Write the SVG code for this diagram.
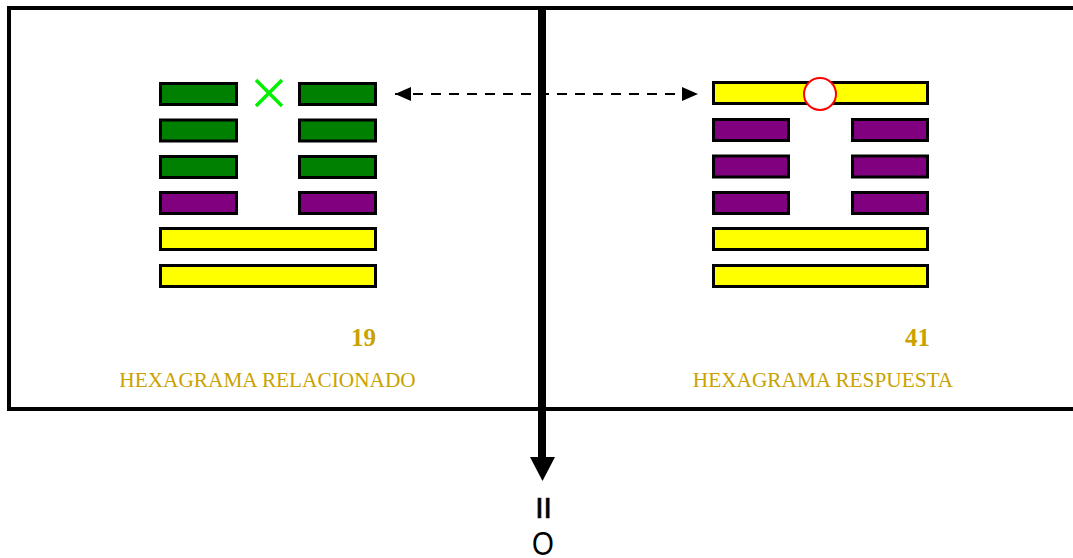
<svg xmlns="http://www.w3.org/2000/svg" width="1073" height="558" viewBox="0 0 1073 558">
<defs>
<style>
.bar{stroke:#000;stroke-width:3}
.g{fill:#008000}
.p{fill:#800080}
.y{fill:#ffff00}
.num{font-family:"Liberation Serif",serif;font-weight:bold;font-size:25px;fill:#c9a200;text-anchor:end}
.lbl{font-family:"Liberation Serif",serif;font-size:21.3px;fill:#c9a200;text-anchor:middle}
.sym{font-family:"Liberation Sans",sans-serif;fill:#000;text-anchor:middle}
</style>
<marker id="ah" viewBox="0 0 16 14" refX="16" refY="7" markerWidth="16" markerHeight="14" markerUnits="userSpaceOnUse" orient="auto-start-reverse">
<path d="M0,0 L16,7 L0,14 Z" fill="#000"/>
</marker>
</defs>
<rect width="1073" height="558" fill="#fff"/>
<path id="frame" d="M1076,8 H9 V409 H1076" fill="none" stroke="#000" stroke-width="4"/>
<g id="hex19">
<rect class="bar g" x="160.5" y="83.5" width="76" height="21"/>
<rect class="bar g" x="299.5" y="83.5" width="76" height="21"/>
<rect class="bar g" x="160.5" y="120" width="76" height="21"/>
<rect class="bar g" x="299.5" y="120" width="76" height="21"/>
<rect class="bar g" x="160.5" y="156.5" width="76" height="21"/>
<rect class="bar g" x="299.5" y="156.5" width="76" height="21"/>
<rect class="bar p" x="160.5" y="192.5" width="76" height="21"/>
<rect class="bar p" x="299.5" y="192.5" width="76" height="21"/>
<rect class="bar y" x="160.5" y="228.5" width="215" height="21"/>
<rect class="bar y" x="160.5" y="265.5" width="215" height="21"/>
<path d="M256,80 L282,106 M282,80 L256,106" stroke="#00ee00" stroke-width="3.5" fill="none"/>
<text class="num" x="376" y="346">19</text>
<text class="lbl" x="267.5" y="387">HEXAGRAMA RELACIONADO</text>
</g>
<g id="hex41">
<rect class="bar y" x="713.5" y="82.5" width="214" height="21"/>
<rect class="bar p" x="713.5" y="119.5" width="75" height="21"/>
<rect class="bar p" x="852.5" y="119.5" width="75" height="21"/>
<rect class="bar p" x="713.5" y="156" width="75" height="21"/>
<rect class="bar p" x="852.5" y="156" width="75" height="21"/>
<rect class="bar p" x="713.5" y="192.5" width="75" height="21"/>
<rect class="bar p" x="852.5" y="192.5" width="75" height="21"/>
<rect class="bar y" x="713.5" y="228.5" width="214" height="21"/>
<rect class="bar y" x="713.5" y="265.5" width="214" height="21"/>
<circle cx="820" cy="94" r="16" fill="#fff" stroke="#ff0000" stroke-width="2"/>
<text class="num" x="930" y="346">41</text>
<text class="lbl" x="823" y="387">HEXAGRAMA RESPUESTA</text>
</g>
<g id="connectors">
<line x1="395" y1="94" x2="698" y2="94" stroke="#000" stroke-width="2" stroke-dasharray="10 8" marker-start="url(#ah)" marker-end="url(#ah)"/>
<line x1="542" y1="8" x2="542" y2="459" stroke="#000" stroke-width="8"/>
<path d="M530,457 L555,457 L542.5,481 Z" fill="#000"/>
</g>
<g id="result">
<text class="sym" x="543.5" y="518" font-size="30" stroke="#000" stroke-width="0.7">II</text>
<text class="sym" transform="translate(543,555) scale(0.85,1)" x="0" y="0" font-size="33">O</text>
</g>
</svg>
